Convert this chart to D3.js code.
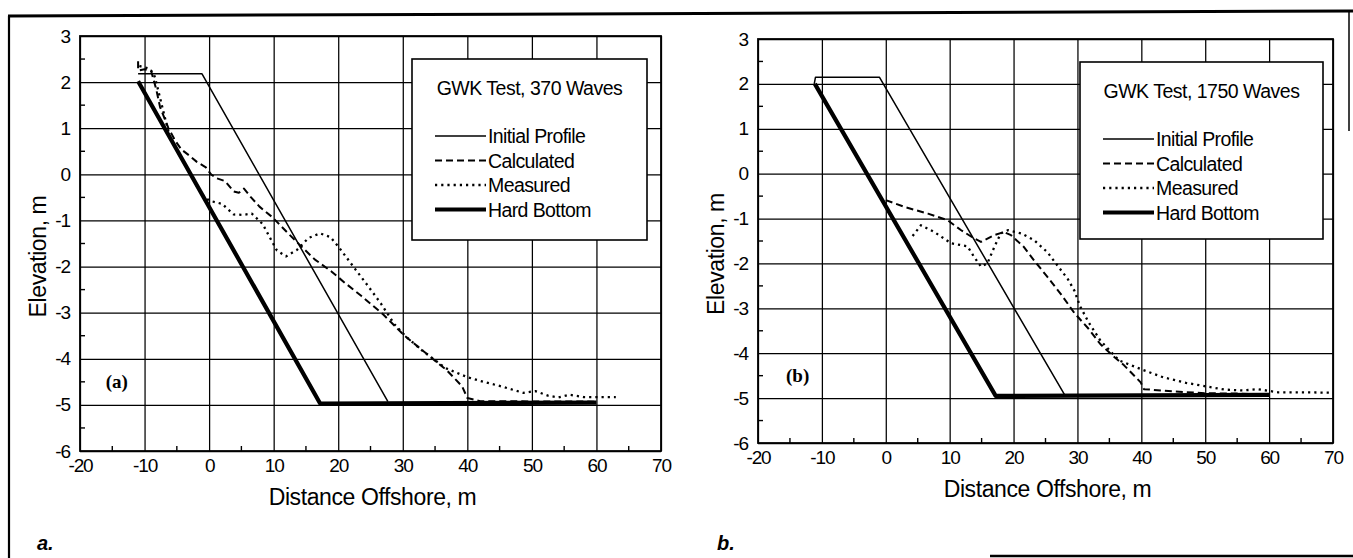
<!DOCTYPE html>
<html>
<head>
<meta charset="utf-8">
<script src="https://cdn.jsdelivr.net/npm/d3@7"></script>
<style>
  html, body { margin: 0; padding: 0; background: #fff; }
  svg { display: block; font-family: "Liberation Sans", Arial, sans-serif; }
</style>
</head>
<body>
<div id="chart"></div>
<script>
// GWK beach profile tests: elevation vs distance offshore (two panels)
const xTicks = [-20, -10, 0, 10, 20, 30, 40, 50, 60, 70];
const yTicks = [3, 2, 1, 0, -1, -2, -3, -4, -5, -6];
const xMinor = [-15, -5, 5, 15, 25, 35, 45, 55, 65];
const yMinor = [2.5, 1.5, 0.5, -0.5, -1.5, -2.5, -3.5, -4.5, -5.5];
const seriesNames = ['Initial Profile', 'Calculated', 'Measured', 'Hard Bottom'];

// panel (a): 370 waves
const initialA = [[-11, 2.18], [-1.1, 2.18], [27.7, -4.93]];
const calculatedA = [[-11, 2.45], [-11, 2.25], [-10, 2.28], [-9, 2.25], [-8.6, 2.05], [-8.2, 1.85],
  [-7.6, 1.46], [-6.3, 1.0], [-5.2, 0.72], [-4.3, 0.54], [-3, 0.4], [-1.9, 0.27], [-0.5, 0.15],
  [0.3, 0.0], [1.1, -0.08], [2.5, -0.15], [3.8, -0.37], [4.6, -0.4], [5.4, -0.31], [6.5, -0.5],
  [7.8, -0.7], [9.8, -0.93], [12.3, -1.29], [14.4, -1.58], [16.4, -1.85], [18.9, -2.1], [21, -2.35],
  [23.6, -2.64], [26.9, -3.03], [30.2, -3.49], [33.6, -3.88], [36.9, -4.26], [39.2, -4.6],
  [40, -4.85], [42, -4.92], [60, -4.93]];
const measuredA = [[-10.8, 2.35], [-9.5, 2.3], [-8.6, 2.2], [-8.2, 2.0], [-7.5, 1.6], [-6.8, 1.2],
  [-6, 0.77], [-3.5, 0.15], [-1.2, -0.42], [0, -0.57], [2, -0.64], [3.8, -0.87], [5.3, -0.88],
  [6.6, -0.85], [8.3, -1.08], [9.6, -1.42], [10.5, -1.65], [11.9, -1.78], [13.6, -1.64],
  [15.4, -1.38], [17.2, -1.28], [18.8, -1.36], [20.2, -1.6], [22.6, -2.05], [24.5, -2.4],
  [26.6, -2.8], [28.7, -3.25], [30.5, -3.52], [33, -3.82], [36.6, -4.2], [40, -4.4], [42.5, -4.5],
  [45.3, -4.6], [48.7, -4.74], [50.5, -4.7], [52.5, -4.8], [54.1, -4.84], [55.8, -4.78],
  [58, -4.83], [63, -4.83]];
const hardBottomA = [[-11, 2.02], [17.2, -4.97], [60, -4.95]];

// panel (b): 1750 waves
const initialB = [[-11.2, 2.0], [-11, 2.15], [-1, 2.15], [28, -4.93]];
const calculatedB = [[0, -0.59], [2.9, -0.74], [6.6, -0.89], [9.7, -1.04], [11.8, -1.26],
  [13.8, -1.44], [14.9, -1.52], [17, -1.37], [18.5, -1.3], [19.6, -1.37], [21.6, -1.63],
  [23.2, -1.93], [25.3, -2.3], [27.5, -2.7], [29.5, -3.1], [31.7, -3.45], [33.6, -3.8],
  [35.5, -4.05], [37.3, -4.27], [39.9, -4.65], [40.4, -4.8], [45, -4.85], [50, -4.89],
  [55, -4.9], [60, -4.92]];
const measuredB = [[4.2, -1.39], [5.5, -1.15], [7.6, -1.3], [10.2, -1.55], [12.8, -1.62],
  [13.8, -1.85], [14.9, -2.07], [15.9, -2.0], [17, -1.63], [18, -1.33], [19.1, -1.26],
  [21.2, -1.33], [23.2, -1.48], [25.3, -1.75], [27, -2.07], [28.5, -2.35], [29.5, -2.6],
  [30.4, -2.95], [31.7, -3.3], [33.6, -3.72], [36.5, -4.16], [40.2, -4.37], [43.5, -4.54],
  [47, -4.66], [50.2, -4.74], [53, -4.81], [56, -4.83], [58.2, -4.8], [61.4, -4.87],
  [65, -4.87], [70, -4.88]];
const hardBottomB = [[-11.1, 2.0], [17.2, -4.95], [60, -4.93]];

const lineStyle = {
  'Initial Profile': { w: 1.5, dash: null },
  'Calculated': { w: 2, dash: '7,4' },
  'Measured': { w: 2.3, dash: '2.2,4' },
  'Hard Bottom': { w: 4.2, dash: null }
};

const W = 1353, H = 558;
const svg = d3.select('#chart').append('svg').attr('width', W).attr('height', H);

// page frame
const frame = svg.append('g').attr('fill', 'none').attr('stroke', '#000');
frame.append('path').attr('d', 'M8,16 L1353,11').attr('stroke-width', 3);
frame.append('path').attr('d', 'M9,16 L9,558').attr('stroke-width', 2.2);
frame.append('path').attr('d', 'M1349,10 L1349,131').attr('stroke-width', 1.5);
frame.append('path').attr('d', 'M990,556 L1353,556').attr('stroke-width', 2.5);

function panel(opt) {
  const x = d3.scaleLinear().domain([-20, 70]).range([opt.left, opt.right]);
  const y = d3.scaleLinear().domain([-6, 3]).range([opt.bottom, opt.top]);
  const g = svg.append('g');
  const w = opt.right - opt.left, h = opt.bottom - opt.top;

  // grid + tick labels
  const ax = g.append('g').attr('transform', `translate(0,${opt.bottom})`)
    .call(d3.axisBottom(x).tickValues(xTicks).tickSizeInner(-h).tickSizeOuter(0)
      .tickPadding(8).tickFormat(d => String(d)));
  const ay = g.append('g').attr('transform', `translate(${opt.left},0)`)
    .call(d3.axisLeft(y).tickValues(yTicks).tickSizeInner(-w).tickSizeOuter(0)
      .tickPadding(10).tickFormat(d => String(d)));
  [ax, ay].forEach(a => {
    a.select('.domain').remove();
    a.selectAll('line').attr('stroke', '#000').attr('stroke-width', 1.25);
    a.selectAll('text').attr('fill', '#000').attr('font-size', 19)
      .attr('letter-spacing', '-1.1px').attr('font-family', '"Liberation Sans", Arial, sans-serif');
  });

  // minor ticks
  g.selectAll('.mx').data(xMinor).enter().append('line')
    .attr('x1', d => x(d)).attr('x2', d => x(d))
    .attr('y1', opt.bottom).attr('y2', opt.bottom - 5)
    .attr('stroke', '#000').attr('stroke-width', 1.4);
  g.selectAll('.my').data(yMinor).enter().append('line')
    .attr('y1', d => y(d)).attr('y2', d => y(d))
    .attr('x1', opt.left).attr('x2', opt.left + 5)
    .attr('stroke', '#000').attr('stroke-width', 1.4);

  // profiles
  const line = d3.line().x(d => x(d[0])).y(d => y(d[1]));
  opt.series.forEach((pts, i) => {
    const st = lineStyle[seriesNames[i]];
    g.append('path').datum(pts).attr('d', line)
      .attr('fill', 'none').attr('stroke', '#000')
      .attr('stroke-width', st.w).attr('stroke-dasharray', st.dash)
      .attr('stroke-linejoin', 'round');
  });

  // plot border
  g.append('rect').attr('x', opt.left).attr('y', opt.top).attr('width', w).attr('height', h)
    .attr('fill', 'none').attr('stroke', '#000').attr('stroke-width', 1.8);

  // legend
  const L = opt.legend;
  const lg = g.append('g').attr('transform', `translate(${L.x},${L.y})`);
  lg.append('rect').attr('width', L.w).attr('height', L.h)
    .attr('fill', '#fff').attr('stroke', '#000').attr('stroke-width', 1.6);
  lg.append('text').attr('x', L.w / 2).attr('y', 36).attr('text-anchor', 'middle')
    .attr('font-size', 19.5).attr('letter-spacing', '-0.5px').text(opt.title);
  seriesNames.forEach((name, i) => {
    const st = lineStyle[name];
    const yy = 77 + i * 24.5;
    lg.append('line').attr('x1', 23).attr('x2', 74).attr('y1', yy).attr('y2', yy)
      .attr('stroke', '#000').attr('stroke-width', st.w).attr('stroke-dasharray', st.dash);
    lg.append('text').attr('x', 76).attr('y', yy).attr('dy', '0.36em')
      .attr('font-size', 19.5).attr('letter-spacing', '-0.6px').text(name);
  });

  // panel tag
  g.append('text').attr('x', x(opt.tagX)).attr('y', y(-4.5)).attr('dy', '0.35em')
    .attr('text-anchor', 'middle').attr('font-family', '"Liberation Serif", "Times New Roman", serif')
    .attr('font-weight', 'bold').attr('font-size', 19).text(opt.tag);

  // axis titles
  g.append('text').attr('x', (opt.left + opt.right) / 2 + 2).attr('y', opt.bottom + 54)
    .attr('text-anchor', 'middle').attr('font-size', 23).attr('letter-spacing', '-0.4px')
    .text('Distance Offshore, m');
  const cy = (opt.top + opt.bottom) / 2 + 13;
  g.append('text').attr('transform', `translate(${opt.left - 42},${cy}) rotate(-90)`)
    .attr('dy', '0.35em').attr('text-anchor', 'middle').attr('font-size', 23)
    .attr('letter-spacing', '-0.4px').text('Elevation, m');

  // figure letter
  svg.append('text').attr('x', opt.letterX).attr('y', 550)
    .attr('font-family', '"Liberation Sans", Arial, sans-serif')
    .attr('font-weight', 'bold').attr('font-style', 'italic').attr('font-size', 20)
    .text(opt.letter);
}

panel({
  left: 80, right: 661, top: 36, bottom: 451,
  series: [initialA, calculatedA, measuredA, hardBottomA],
  title: 'GWK Test, 370 Waves',
  legend: { x: 412, y: 59, w: 235, h: 181 },
  tag: '(a)', tagX: -14.3, letter: 'a.', letterX: 37
});
panel({
  left: 758, right: 1333, top: 39, bottom: 443,
  series: [initialB, calculatedB, measuredB, hardBottomB],
  title: 'GWK Test, 1750 Waves',
  legend: { x: 1080, y: 62, w: 243, h: 177 },
  tag: '(b)', tagX: -13.8, letter: 'b.', letterX: 717
});
</script>
</body>
</html>
